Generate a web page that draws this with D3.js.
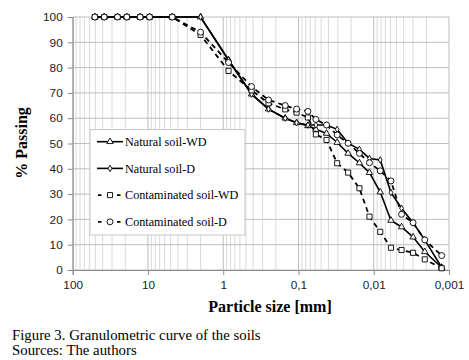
<!DOCTYPE html>
<html>
<head>
<meta charset="utf-8">
<script src="https://cdn.jsdelivr.net/npm/d3@7"></script>
<style>
  body { margin: 0; background: #fff; }
  svg { display: block; }
</style>
</head>
<body>
<div id="chart"></div>
<script>
// Sieve + hydrometer particle sizes (mm)
var sizes = [50.8, 38.1, 25.4, 19.1, 12.7, 9.52, 4.76, 2.0, 0.85, 0.42, 0.25, 0.15, 0.106, 0.075,
             0.0587, 0.0424, 0.0306, 0.0219, 0.0155, 0.0114, 0.0082, 0.0059, 0.00427, 0.0030, 0.0021, 0.00125];

// % passing for each soil
var naturalWD = [100, 100, 100, 100, 100, 100, 100, 100, 83, 69.5, 63.6, 60, 58.2, 57,
                 55.6, 54, 50.4, 46.1, 42.3, 38.5, 30.8, 19.6, 17, 13, 7.2, 1];
var naturalD = [100, 100, 100, 100, 100, 100, 100, 100, 83, 69.5, 63.6, 60, 58.2, 57.3,
                57.3, 57.3, 55.6, 50.1, 47.7, 44.1, 43.5, 30.6, 24.4, 18.7, 11.9, 1];
var contamWD = [100, 100, 100, 100, 100, 100, 100, 92.9, 78.7, 71, 65.9, 63.5, 62.2, 60.3,
                53.6, 51.4, 42.2, 38.5, 32.3, 21.1, 15.1, 8.8, 7.9, 6.8, 4.2, 0.7];
var contamD = [100, 100, 100, 100, 100, 100, 100, 94, 82, 72.5, 67.2, 65, 63.6, 62.7,
               59.5, 57.3, 53.4, 50.1, 46.1, 42.4, 39.2, 35.2, 22, 18.7, 11.9, 5.7];

var xTicks = [100, 10, 1, 0.1, 0.01, 0.001];
var yTicks = [0, 10, 20, 30, 40, 50, 60, 70, 80, 90, 100];

var seriesNames = ["Natural soil-WD", "Natural soil-D", "Contaminated soil-WD", "Contaminated soil-D"];

var W = 469, H = 360;
var pL = 72.7, pR = 449, pT = 17, pB = 270;
var serif = "'Liberation Serif', 'Times New Roman', serif";

var svg = d3.select("#chart").append("svg")
    .attr("width", W).attr("height", H);

var x = d3.scaleLog().domain([100, 0.001]).range([pL, pR]);
var y = d3.scaleLinear().domain([0, 100]).range([pB, pT]);

// minor grid (2..9 multiples per decade)
svg.append("g").selectAll("line")
    .data(x.ticks().filter(function(d) { return xTicks.indexOf(d) < 0; }))
    .enter().append("line")
    .attr("x1", function(d) { return x(d); }).attr("x2", function(d) { return x(d); })
    .attr("y1", pT).attr("y2", pB)
    .attr("stroke", "#dadada").attr("stroke-width", 1);

// major grid
svg.append("g").selectAll("line")
    .data(xTicks)
    .enter().append("line")
    .attr("x1", function(d) { return x(d); }).attr("x2", function(d) { return x(d); })
    .attr("y1", pT).attr("y2", pB)
    .attr("stroke", "#bdbdbd").attr("stroke-width", 1);

svg.append("g").selectAll("line")
    .data(yTicks)
    .enter().append("line")
    .attr("x1", pL).attr("x2", pR)
    .attr("y1", function(d) { return y(d); }).attr("y2", function(d) { return y(d); })
    .attr("stroke", "#bdbdbd").attr("stroke-width", 1);

// axes
var xAxis = d3.axisBottom(x).tickValues(xTicks).tickSize(5).tickPadding(6)
    .tickFormat(function(d) { return String(d).replace(".", ","); });
var gx = svg.append("g").attr("transform", "translate(0," + pB + ")").call(xAxis);

var yAxis = d3.axisLeft(y).tickValues(yTicks).tickSize(5).tickPadding(5);
var gy = svg.append("g").attr("transform", "translate(" + pL + ",0)").call(yAxis);

[gx, gy].forEach(function(g) {
    g.select(".domain").attr("stroke", "#8c8c8c");
    g.selectAll(".tick line").attr("stroke", "#8c8c8c");
    g.selectAll("text").attr("font-family", "'Liberation Sans', Arial, sans-serif")
        .attr("font-size", 11.8).attr("fill", "#222");
});

// lines
var line = d3.line()
    .x(function(d) { return x(d[0]); })
    .y(function(d) { return y(d[1]); });

var series = [
    { name: seriesNames[0], vals: naturalWD, dash: null, sym: d3.symbolTriangle, size: 18 },
    { name: seriesNames[1], vals: naturalD, dash: null, sym: d3.symbolDiamond, size: 12 },
    { name: seriesNames[2], vals: contamWD, dash: "5,4", sym: d3.symbolSquare, size: 26 },
    { name: seriesNames[3], vals: contamD, dash: "5,4", sym: d3.symbolCircle, size: 28 }
];

series.forEach(function(s) {
    var pts = sizes.map(function(v, i) { return [v, s.vals[i]]; });
    svg.append("path")
        .attr("d", line(pts))
        .attr("fill", "none").attr("stroke", "#000")
        .attr("stroke-width", s.dash ? 1.8 : 1.6)
        .attr("stroke-dasharray", s.dash);
});

series.forEach(function(s) {
    var pts = sizes.map(function(v, i) { return [v, s.vals[i]]; });
    svg.append("g").selectAll("path")
        .data(pts)
        .enter().append("path")
        .attr("d", d3.symbol().type(s.sym).size(s.size))
        .attr("transform", function(d) { return "translate(" + x(d[0]) + "," + y(d[1]) + ")"; })
        .attr("fill", "#fff").attr("stroke", "#000").attr("stroke-width", 0.9);
});

// legend
var lg = svg.append("g");
lg.append("rect").attr("x", 90).attr("y", 129.5).attr("width", 155).attr("height", 105.5)
    .attr("fill", "#fff").attr("stroke", "#c8c8c8");
series.forEach(function(s, i) {
    var ly = 141.7 + i * 26.7;
    lg.append("line").attr("x1", s.dash ? 98 : 97).attr("x2", 123).attr("y1", ly).attr("y2", ly)
        .attr("stroke", "#000").attr("stroke-width", s.dash ? 1.8 : 1.6)
        .attr("stroke-dasharray", s.dash ? "3.5,6" : null);
    lg.append("path").attr("d", d3.symbol().type(s.sym).size(s.size))
        .attr("transform", "translate(110," + ly + ")")
        .attr("fill", "#fff").attr("stroke", "#000").attr("stroke-width", 0.9);
    lg.append("text").attr("x", 125).attr("y", ly + 4.3)
        .attr("font-family", serif).attr("font-size", 12.2)
        .text(s.name);
});

// axis titles
svg.append("text").attr("x", 270).attr("y", 312).attr("text-anchor", "middle")
    .attr("font-family", serif).attr("font-weight", "bold")
    .attr("font-size", 16).text("Particle size [mm]");
svg.append("text").attr("transform", "translate(27,143) rotate(-90)").attr("text-anchor", "middle")
    .attr("font-family", serif).attr("font-weight", "bold")
    .attr("font-size", 16).text("% Passing");

// caption
svg.append("text").attr("x", 12).attr("y", 339.5)
    .attr("font-family", serif).attr("font-size", 14.8)
    .text("Figure 3. Granulometric curve of the soils");
svg.append("text").attr("x", 12).attr("y", 354.5)
    .attr("font-family", serif).attr("font-size", 14.8)
    .text("Sources: The authors");
</script>
</body>
</html>
